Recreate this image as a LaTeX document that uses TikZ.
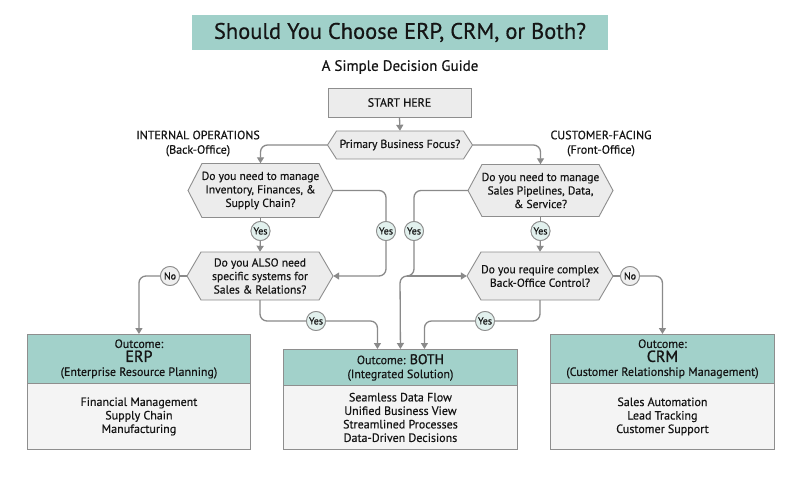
\documentclass[tikz,border=0pt]{standalone}
\usepackage{fontspec}
\setmainfont{PT Sans}[RawFeature={embolden=0.5}]
\newfontfamily\medfont{PT Sans}[RawFeature={embolden=1.3}]
\usetikzlibrary{arrows.meta}
\definecolor{titleteal}{HTML}{A0D0C9}
\definecolor{hdrteal}{HTML}{A2D1CA}
\definecolor{boxgray}{HTML}{ECECEC}
\definecolor{bodygray}{HTML}{F4F4F4}
\definecolor{bordergray}{HTML}{8E8E8E}
\definecolor{linegray}{HTML}{8A8A8A}
\definecolor{yesfill}{HTML}{E2F1EE}
\definecolor{nofill}{HTML}{EFEFEF}
\definecolor{txt}{HTML}{151515}
\tikzset{
  conn/.style={draw=linegray, line width=1.3pt, rounded corners=7pt},
  arr/.style={conn, -{Triangle[length=6pt,width=7pt]}},
  hexst/.style={fill=boxgray, draw=bordergray, line width=0.9pt},
  hextext/.style={inner sep=0pt, text=txt, font=\fontsize{11.6}{13.5}\selectfont, align=center},
  startbox/.style={fill=boxgray, draw=bordergray, line width=0.9pt, text=txt, font=\fontsize{12}{13.5}\selectfont},
  yesc/.style={circle, fill=yesfill, draw=bordergray, line width=0.8pt, inner sep=0pt, minimum size=19pt, text=txt, font=\fontsize{10}{11}\selectfont},
  noc/.style={yesc, fill=nofill},
  hdr/.style={fill=hdrteal, draw=bordergray, line width=0.9pt, anchor=north west, inner sep=0pt, align=center, text=txt, font=\fontsize{12}{14}\selectfont},
  bodybox/.style={fill=bodygray, draw=bordergray, line width=0.9pt, anchor=north west, inner sep=0pt, align=center, text=txt, font=\fontsize{12}{13.5}\selectfont},
  sidelabel/.style={align=center, text=txt, font=\fontsize{12}{14.5}\selectfont},
}
\newcommand{\hexnode}[7]{%
  \draw[hexst] ({#2-#4},#3) -- ({#2-#4+#6},{#3-#5}) -- ({#2+#4-#6},{#3-#5}) -- ({#2+#4},#3) -- ({#2+#4-#6},{#3+#5}) -- ({#2-#4+#6},{#3+#5}) -- cycle;
  \node[hextext, minimum width={2*#4}, minimum height={2*#5}] (#1) at (#2,#3) {#7};}
\begin{document}
\begin{tikzpicture}[x=1pt,y=-1pt]
\useasboundingbox[fill=white] (0,0) rectangle (800,500);
% title
\node[fill=titleteal, minimum width=416pt, minimum height=35pt, inner sep=0pt, text=txt, font=\fontsize{22.5}{26}\selectfont] (title) at (400,32.5) {Should You Choose ERP, CRM, or Both?};
\node[text=txt, font=\fontsize{15}{17}\selectfont] (sub) at (400,67) {A Simple Decision Guide};
% start
\node[startbox, minimum width=143pt, minimum height=29pt] (start) at (399.5,102.5) {START HERE};
% hexagons
\hexnode{prim}{400}{145}{72.5}{14}{9}{Primary Business Focus?}
\hexnode{lh1}{260.5}{190.5}{72.5}{27}{14}{Do you need to manage\\Inventory, Finances, \&\\Supply Chain?}
\hexnode{rh1}{540.5}{190.5}{72.5}{26}{14}{Do you need to manage\\Sales Pipelines, Data,\\\& Service?}
\hexnode{lh2}{260}{276}{73}{24}{14}{Do you ALSO need\\specific systems for\\Sales \& Relations?}
\hexnode{rh2}{540}{276}{73}{24}{14}{Do you require complex\\Back-Office Control?}
% side labels
\node[sidelabel] (lint) at (198,143.5) {INTERNAL OPERATIONS\\(Back-Office)};
\node[sidelabel] (lcust) at (601,143.5) {CUSTOMER-FACING\\(Front-Office)};
% outcome boxes
\node[hdr, minimum width=223pt, minimum height=49pt] (erp) at (27,334) {Outcome:\\{\medfont\fontsize{16}{16}\selectfont ERP}\\(Enterprise Resource Planning)};
\node[bodybox, minimum width=223pt, minimum height=66pt] (erpb) at (27,383) {Financial Management\\Supply Chain\\Manufacturing};
\node[hdr, minimum width=234pt, minimum height=36pt] (both) at (283,349) {Outcome: {\medfont\fontsize{14}{14}\selectfont BOTH}\\(Integrated Solution)};
\node[bodybox, minimum width=234pt, minimum height=64pt] (bothb) at (283,385) {Seamless Data Flow\\Unified Business View\\Streamlined Processes\\Data-Driven Decisions};
\node[hdr, minimum width=224pt, minimum height=49pt] (crm) at (550,334) {Outcome:\\{\medfont\fontsize{16}{16}\selectfont CRM}\\(Customer Relationship Management)};
\node[bodybox, minimum width=224pt, minimum height=66pt] (crmb) at (550,383) {Sales Automation\\Lead Tracking\\Customer Support};
% yes / no markers
\node[yesc] (y1) at (260.5,231) {Yes};
\node[yesc] (y2) at (386,231) {Yes};
\node[yesc] (y4) at (414,231) {Yes};
\node[yesc] (y6) at (540.5,231) {Yes};
\node[yesc] (y3) at (316,321) {Yes};
\node[yesc] (y5) at (485,321) {Yes};
\node[noc] (n1) at (170,276) {No};
\node[noc] (n2) at (630,276) {No};
\coordinate (jc) at (407,276);
% connectors
\draw[arr] (start.south) -- (prim.north);
\draw[arr] (prim.west) -| (lh1.north);
\draw[arr] (prim.east) -| (rh1.north);
\draw[conn] (lh1.south) -- (y1);
\draw[arr] (y1) -- (lh2.north);
\draw[conn] (rh1.south) -- (y6);
\draw[arr] (y6) -- (rh2.north);
\draw[conn] (lh1.east) -| (y2);
\draw[arr] (y2) |- (lh2.east);
\draw[conn] (rh1.west) -| (y4);
\draw[arr] (y4) -- (414,276) -- (400,276) -- (both.north);
\draw[arr] (jc) -- (rh2.west);
\draw[conn] (lh2.west) -- (n1);
\draw[arr] (n1) -| (erp.north);
\draw[conn] (rh2.east) -- (n2);
\draw[arr] (n2) -| (crm.north);
\draw[conn] (lh2.south) |- (y3);
\draw[arr] (y3) -| ([xshift=-23pt]both.north);
\draw[conn] (rh2.south) |- (y5);
\draw[arr] (y5) -| ([xshift=24pt]both.north);
% redraw markers on top
\node[yesc] at (y1) {Yes};
\node[yesc] at (y2) {Yes};
\node[yesc] at (y4) {Yes};
\node[yesc] at (y6) {Yes};
\node[yesc] at (y3) {Yes};
\node[yesc] at (y5) {Yes};
\node[noc] at (n1) {No};
\node[noc] at (n2) {No};
\end{tikzpicture}
\end{document}
